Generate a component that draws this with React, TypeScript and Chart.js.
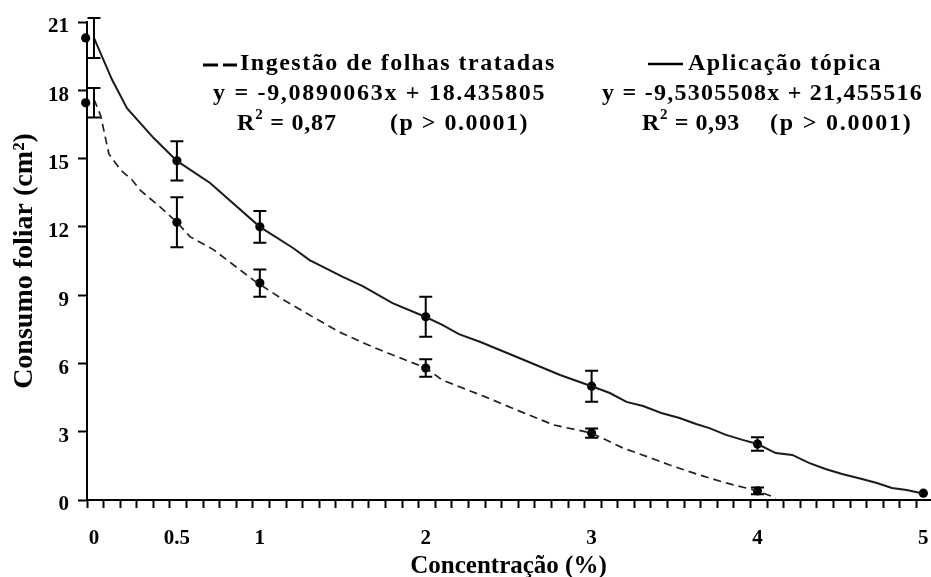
import React, { useEffect, useRef } from 'react';
import { Chart, registerables } from 'chart.js';

Chart.register(...registerables);

const FONT = "'Liberation Serif', 'Times New Roman', serif";

// Mean points with error bars (x = concentration %)
const topicaX = [0, 0.5, 1, 2, 3, 4, 5];
const topicaDotX = [-0.05, 0.5, 1, 2, 3, 4, 5];
const topicaMean = [20.3, 14.9, 12.0, 8.05, 5.0, 2.46, 0.3];
const topicaErr = [0.88, 0.86, 0.7, 0.88, 0.68, 0.3, 0];

const ingestaoX = [0, 0.5, 1, 2, 3, 4];
const ingestaoDotX = [-0.05, 0.5, 1, 2, 3, 4];
const ingestaoMean = [17.45, 12.2, 9.53, 5.8, 2.94, 0.4];
const ingestaoErr = [0.65, 1.1, 0.6, 0.38, 0.2, 0.15];

// Fitted curves
const topicaCurveX = [0, 0.11, 0.2, 0.36, 0.5, 0.7, 1.0, 1.2, 1.3, 1.5, 1.62, 1.8, 2.0, 2.1, 2.2, 2.33, 2.52, 2.81, 3.0, 3.11, 3.21, 3.31, 3.42, 3.53, 3.63, 3.71, 3.81, 3.91, 4.0, 4.11, 4.21, 4.31, 4.41, 4.51, 4.63, 4.72, 4.81, 4.9, 4.99];
const topicaCurveY = [20.3, 18.45, 17.2, 15.9, 14.9, 13.93, 12.0, 11.07, 10.54, 9.8, 9.4, 8.65, 8.04, 7.69, 7.29, 6.94, 6.37, 5.49, 5.0, 4.7, 4.31, 4.13, 3.82, 3.6, 3.34, 3.16, 2.86, 2.64, 2.46, 2.06, 1.98, 1.63, 1.36, 1.14, 0.92, 0.75, 0.53, 0.44, 0.3];

const ingestaoCurveX = [0, 0.04, 0.09, 0.16, 0.23, 0.28, 0.4, 0.5, 0.58, 0.72, 0.96, 1.14, 1.32, 1.48, 1.64, 1.77, 2.0, 2.1, 2.36, 2.52, 2.77, 2.91, 3.0, 3.19, 3.39, 3.47, 3.65, 3.81, 4.0, 4.11];
const ingestaoCurveY = [17.6, 16.9, 15.2, 14.5, 14.06, 13.6, 12.87, 12.2, 11.56, 11.0, 9.67, 8.8, 8.04, 7.38, 6.85, 6.46, 5.8, 5.27, 4.53, 4.04, 3.3, 3.08, 2.94, 2.28, 1.76, 1.54, 1.1, 0.75, 0.4, 0.09];

// Axes
const xMajorTicks = [0, 0.5, 1, 2, 3, 4, 5];
const xMajorLabels = ['0', '0.5', '1', '2', '3', '4', '5'];
const xMin = -0.042;
const xMax = 5.04;
const xMinorStep = 0.1;
const xMinorCount = 51;
const yTicks = [0, 3, 6, 9, 12, 15, 18, 21];

const zip = (xs: number[], ys: number[]) => xs.map((x, i) => ({ x, y: ys[i] }));

const errorBarPlugin = {
  id: 'errorBars',
  afterDatasetsDraw(chart: any) {
    const { ctx, scales } = chart;
    const xs = scales.x;
    const ys = scales.y;
    const series = [
      { x: topicaX, m: topicaMean, e: topicaErr },
      { x: ingestaoX, m: ingestaoMean, e: ingestaoErr },
    ];
    ctx.save();
    ctx.strokeStyle = '#000';
    ctx.lineWidth = 2;
    series.forEach((s) => {
      s.x.forEach((xv, i) => {
        if (!s.e[i]) return;
        const px = xs.getPixelForValue(xv);
        const top = ys.getPixelForValue(s.m[i] + s.e[i]);
        const bot = ys.getPixelForValue(s.m[i] - s.e[i]);
        ctx.beginPath();
        ctx.moveTo(px, top);
        ctx.lineTo(px, bot);
        ctx.moveTo(px - 6.5, top);
        ctx.lineTo(px + 6.5, top);
        ctx.moveTo(px - 6.5, bot);
        ctx.lineTo(px + 6.5, bot);
        ctx.stroke();
      });
    });
    ctx.restore();
  },
};

// Major x tick labels, placed through the x scale
const xLabelPlugin = {
  id: 'xMajorLabels',
  afterDraw(chart: any) {
    const { ctx, scales, chartArea } = chart;
    const xs = scales.x;
    ctx.save();
    ctx.fillStyle = '#000';
    ctx.font = `bold 21px ${FONT}`;
    ctx.textAlign = 'center';
    ctx.textBaseline = 'middle';
    xMajorTicks.forEach((v, i) => {
      ctx.fillText(xMajorLabels[i], xs.getPixelForValue(v), chartArea.bottom + 39);
    });
    ctx.restore();
  },
};

const annotationPlugin = {
  id: 'annotations',
  afterDraw(chart: any) {
    const ctx = chart.ctx;
    ctx.save();
    ctx.fillStyle = '#000';
    ctx.textBaseline = 'alphabetic';
    ctx.textAlign = 'left';
    const big = `bold 24px ${FONT}`;
    const small = `bold 15px ${FONT}`;
    const runs = (x: number, y: number, spacing: number, parts: { t: string; sup?: boolean }[]) => {
      (ctx as any).letterSpacing = `${spacing}px`;
      let cx = x;
      parts.forEach((p) => {
        ctx.font = p.sup ? small : big;
        ctx.fillText(p.t, cx, p.sup ? y - 11 : y);
        cx += ctx.measureText(p.t).width;
      });
    };
    // legend samples
    ctx.strokeStyle = '#000';
    ctx.lineWidth = 3;
    ctx.beginPath();
    ctx.moveTo(203, 65);
    ctx.lineTo(218, 65);
    ctx.moveTo(223, 65);
    ctx.lineTo(237, 65);
    ctx.stroke();
    ctx.lineWidth = 2.5;
    ctx.beginPath();
    ctx.moveTo(648, 64);
    ctx.lineTo(683, 64);
    ctx.stroke();

    runs(240, 70, 1.5, [{ t: 'Ingestão de folhas tratadas' }]);
    runs(213, 100, 1.7, [{ t: 'y = -9,0890063x + 18.435805' }]);
    runs(237, 130, 0.8, [{ t: 'R' }, { t: '2', sup: true }, { t: ' = 0,87' }]);
    runs(390, 130, 1.5, [{ t: '(p > 0.0001)' }]);

    runs(688, 70, 1.5, [{ t: 'Aplicação tópica' }]);
    runs(602, 100, 1.25, [{ t: 'y = -9,5305508x + 21,455516' }]);
    runs(642, 130, 0.6, [{ t: 'R' }, { t: '2', sup: true }, { t: ' = 0,93' }]);
    runs(770, 130, 1.8, [{ t: '(p > 0.0001)' }]);
    ctx.restore();
  },
};

export default function App() {
  const ref = useRef<HTMLCanvasElement | null>(null);

  useEffect(() => {
    if (!ref.current) return;
    const tickFont = { family: FONT, size: 21, weight: 'bold' as const };
    const chart = new Chart(ref.current, {
      type: 'scatter',
      data: {
        datasets: [
          {
            label: 'Aplicação tópica (curva)',
            data: zip(topicaCurveX, topicaCurveY),
            showLine: true,
            borderColor: '#1a1a1a',
            borderWidth: 2,
            pointRadius: 0,
            tension: 0,
            clip: false as any,
          },
          {
            label: 'Ingestão de folhas tratadas (curva)',
            data: zip(ingestaoCurveX, ingestaoCurveY),
            showLine: true,
            borderColor: '#222',
            borderWidth: 1.7,
            borderDash: [8, 5],
            pointRadius: 0,
            tension: 0,
            clip: false as any,
          },
          {
            label: 'Aplicação tópica',
            data: zip(topicaDotX, topicaMean),
            pointRadius: 4.6,
            pointBackgroundColor: '#000',
            pointBorderColor: '#000',
            pointBorderWidth: 0,
            clip: false as any,
          },
          {
            label: 'Ingestão de folhas tratadas',
            data: zip(ingestaoDotX, ingestaoMean),
            pointRadius: 4.6,
            pointBackgroundColor: '#000',
            pointBorderColor: '#000',
            pointBorderWidth: 0,
            clip: false as any,
          },
        ],
      },
      options: {
        animation: false,
        responsive: true,
        maintainAspectRatio: false,
        layout: { autoPadding: false, padding: { top: 22, right: 1, left: 0, bottom: 0 } },
        plugins: { legend: { display: false }, tooltip: { enabled: false } },
        scales: {
          x: {
            type: 'linear',
            min: xMin,
            max: xMax,
            afterBuildTicks: (axis: any) => {
              axis.ticks = Array.from({ length: xMinorCount }, (_, k) => ({ value: xMin + k * xMinorStep }));
            },
            afterFit: (s: any) => {
              s.height = 77;
            },
            ticks: { display: false, autoSkip: false },
            grid: {
              display: true,
              drawOnChartArea: false,
              drawTicks: true,
              tickLength: 8,
              tickWidth: 2,
              tickColor: '#000',
            },
            border: { display: true, color: '#000', width: 2 },
            title: {
              display: true,
              text: 'Concentração (%)',
              color: '#000',
              font: { family: FONT, size: 25, weight: 'bold', lineHeight: 0.83 },
              padding: { top: 0, bottom: 0 },
            },
          },
          y: {
            type: 'linear',
            min: 0,
            max: 21,
            afterBuildTicks: (axis: any) => {
              axis.ticks = yTicks.map((v) => ({ value: v }));
            },
            afterFit: (s: any) => {
              s.width = 87;
            },
            ticks: {
              color: '#000',
              font: tickFont,
              padding: 9,
              labelOffset: 5,
              callback: (v: any) => String(v),
            },
            grid: {
              display: true,
              drawOnChartArea: false,
              drawTicks: true,
              tickLength: 9,
              tickWidth: 2,
              tickColor: '#000',
            },
            border: { display: true, color: '#000', width: 2 },
            title: {
              display: true,
              text: 'Consumo foliar (cm²)',
              color: '#000',
              font: { family: FONT, size: 28, weight: 'bold' },
              padding: { top: 8, bottom: 0 },
            },
          },
        },
      },
      plugins: [errorBarPlugin, xLabelPlugin, annotationPlugin],
    } as any);
    return () => chart.destroy();
  }, []);

  return (
    <div style={{ position: 'fixed', left: 0, top: 0, width: 931, height: 577, background: '#fff' }}>
      <canvas ref={ref} />
    </div>
  );
}
